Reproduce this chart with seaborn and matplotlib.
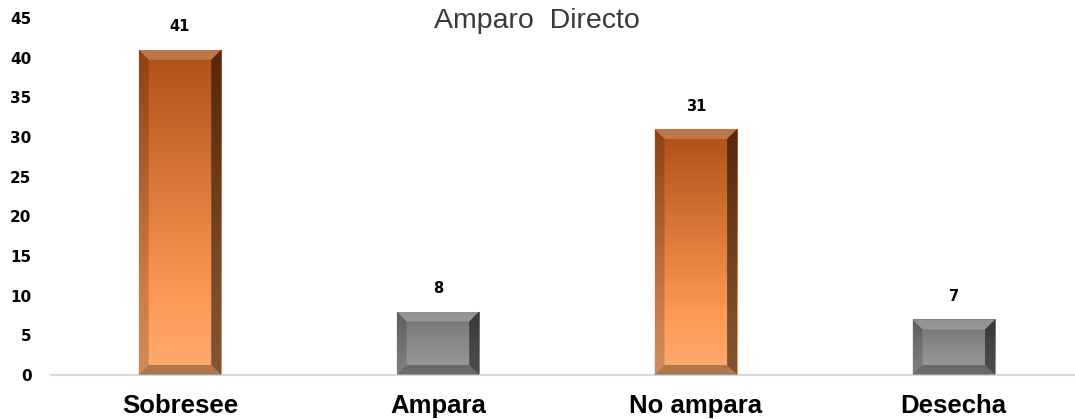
import numpy as np
import pandas as pd
import matplotlib
matplotlib.use("Agg")
import matplotlib.pyplot as plt
import seaborn as sns
from matplotlib.patches import Polygon

categories = ["Sobresee", "Ampara", "No ampara", "Desecha"]
values = [41, 8, 31, 7]
bar_kinds = ["orange", "grey", "orange", "grey"]
title = "Amparo  Directo"
yticks = list(range(0, 50, 5))

sns.set_theme(style="white")
plt.rcParams['font.family'] = ['Liberation Sans', 'DejaVu Sans']

W, H = 1075, 419
fig = plt.figure(figsize=(W / 100, H / 100), dpi=100)
ax = fig.add_axes([51 / W, (H - 375) / H, (W - 51) / W, 357 / H])

df = pd.DataFrame({"cat": categories, "val": values})
palette = {"Sobresee": "#E07B39", "Ampara": "#8C8C8C", "No ampara": "#E07B39", "Desecha": "#8C8C8C"}
sns.barplot(data=df, x="cat", y="val", hue="cat", palette=palette, width=0.32,
            legend=False, ax=ax, saturation=1)

ax.set_xlim(-0.5, 3.47)
ax.set_ylim(0, 45)
ax.set_yticks(yticks)
ax.set_xlabel("")
ax.set_ylabel("")
for s in ["left", "right", "top"]:
    ax.spines[s].set_visible(False)
ax.spines["bottom"].set_color("#D9D9D9")
ax.spines["bottom"].set_linewidth(1.5)
ax.tick_params(axis="both", length=0)
ax.tick_params(axis="y", pad=14)
for t in ax.get_yticklabels():
    t.set_fontproperties({"family": ["DejaVu Sans"], "weight": "bold", "size": 11})
    t.set_color("black")
for t in ax.get_xticklabels():
    t.set_fontproperties({"family": ["Liberation Sans", "DejaVu Sans"], "weight": "bold", "size": 18.5})
    t.set_color("black")
ax.tick_params(axis="x", pad=14)

fig.canvas.draw()
# data units per pixel
x0d, y0d = ax.transData.inverted().transform((0, 0))
x1d, y1d = ax.transData.inverted().transform((1, 1))
dxp, dyp = x1d - x0d, y1d - y0d
bev = 10

grad = {
    "orange": ((0.68, 0.31, 0.09), (0.99, 0.60, 0.33), (1.0, 0.67, 0.44)),
    "grey": ((0.45, 0.45, 0.45), (0.58, 0.58, 0.58), (0.60, 0.60, 0.60)),
}

for patch, kind, v in zip(ax.patches, bar_kinds, values):
    x, y = patch.get_x(), patch.get_y()
    w, h = patch.get_width(), patch.get_height()
    top, mid, bot = [np.array(c) for c in grad[kind]]
    n = 200
    t = np.linspace(0, 1, n)[:, None]
    col = np.where(t < 0.75, top + (mid - top) * (t / 0.75), mid + (bot - mid) * ((t - 0.75) / 0.25))
    img = np.repeat(col[:, None, :], 2, axis=1)
    im = ax.imshow(img, extent=(x, x + w, y, y + h), aspect="auto", origin="upper",
                   zorder=patch.get_zorder() + 0.1, interpolation="bilinear")
    im.set_clip_path(patch)
    bx, by = bev * dxp, bev * dyp
    L, R, B, T = x, x + w, y, y + h
    ax.add_patch(Polygon([(L, T), (R, T), (R - bx, T - by), (L + bx, T - by)],
                         closed=True, facecolor="white", alpha=0.22, edgecolor="none", zorder=3))
    ax.add_patch(Polygon([(L, B), (R, B), (R - bx, B + by), (L + bx, B + by)],
                         closed=True, facecolor="black", alpha=0.30, edgecolor="none", zorder=3))
    ax.add_patch(Polygon([(R, T), (R, B), (R - bx, B + by), (R - bx, T - by)],
                         closed=True, facecolor="black", alpha=0.50, edgecolor="none", zorder=3))
    ax.add_patch(Polygon([(L, T), (L, B), (L + bx, B + by), (L + bx, T - by)],
                         closed=True, facecolor="black", alpha=0.18, edgecolor="none", zorder=3))
    ax.text(x + w / 2, T + 23 * dyp, f"{v}", ha="center", va="center", fontsize=10.5,
            fontweight="bold", family=["DejaVu Sans"], color="black")

fig.text(537 / W, 1 - 21 / H, title, ha="center", va="center", fontsize=20.5, color="#3A3A3A",
         family=["Liberation Sans", "DejaVu Sans"])

fig.savefig("out.png", dpi=100)
